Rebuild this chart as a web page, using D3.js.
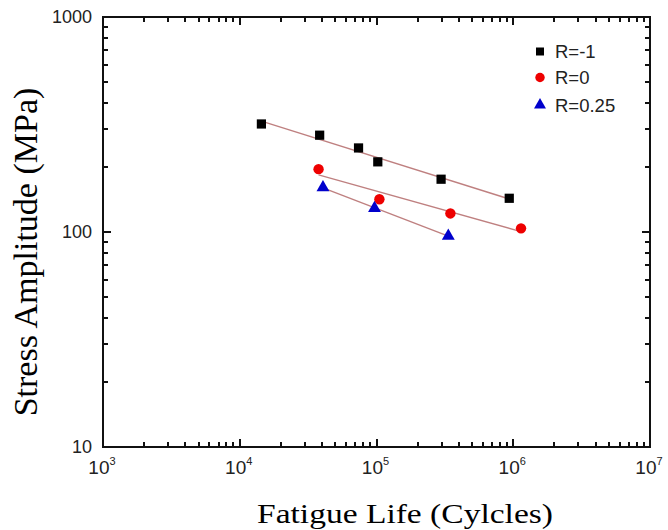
<!DOCTYPE html>
<html>
<head>
<meta charset="utf-8">
<script src="https://cdn.jsdelivr.net/npm/d3@7/dist/d3.min.js"></script>
<style>
  html, body { margin: 0; padding: 0; background: #fff; }
  svg { display: block; }
</style>
</head>
<body>
<svg id="chart" width="668" height="530"></svg>
<script>
// S-N fatigue data for three stress ratios
const seriesNames = ["R=-1", "R=0", "R=0.25"];
const lifeRm1   = [14400, 38400, 73900, 102200, 296700, 935000];
const stressRm1 = [318, 282, 246, 212, 176, 143.5];
const lifeR0    = [37700, 105000, 347000, 1140000];
const stressR0  = [196, 142, 122, 104];
const lifeR025  = [40600, 96700, 335000];
const stressR025 = [161, 129, 95.8];

const xMajorTicks = [1e3, 1e4, 1e5, 1e6, 1e7];
const xTickExponents = ["3", "4", "5", "6", "7"];
const yMajorTicks = [10, 100, 1000];
const yTickLabels = ["10", "100", "1000"];

const series = [
  { name: seriesNames[0], life: lifeRm1, stress: stressRm1, shape: "square", color: "#000000" },
  { name: seriesNames[1], life: lifeR0, stress: stressR0, shape: "circle", color: "#ee0000" },
  { name: seriesNames[2], life: lifeR025, stress: stressR025, shape: "triangle", color: "#0000cc" }
];

const svg = d3.select("#chart");
const plotLeft = 103, plotRight = 650, plotTop = 17, plotBottom = 447;

const x = d3.scaleLog().domain([1e3, 1e7]).range([plotLeft, plotRight]);
const y = d3.scaleLog().domain([10, 1000]).range([plotBottom, plotTop]);

// minor ticks at 2..9 of each decade
const minorX = [];
for (let e = 3; e < 7; e++) for (let k = 2; k <= 9; k++) minorX.push(k * Math.pow(10, e));
const minorY = [];
for (let e = 1; e < 3; e++) for (let k = 2; k <= 9; k++) minorY.push(k * Math.pow(10, e));

const frameColor = "#111";

// plot frame
svg.append("rect")
  .attr("x", plotLeft).attr("y", plotTop)
  .attr("width", plotRight - plotLeft).attr("height", plotBottom - plotTop)
  .attr("fill", "none").attr("stroke", frameColor).attr("stroke-width", 2);

// inward ticks on all four sides, built as one path
const tickPath = d3.path();
function xTicks(values, len) {
  values.forEach(v => {
    const px = Math.round(x(v));
    tickPath.moveTo(px, plotBottom); tickPath.lineTo(px, plotBottom - len);
    tickPath.moveTo(px, plotTop); tickPath.lineTo(px, plotTop + len);
  });
}
function yTicks(values, len) {
  values.forEach(v => {
    const py = Math.round(y(v));
    tickPath.moveTo(plotLeft, py); tickPath.lineTo(plotLeft + len, py);
    tickPath.moveTo(plotRight, py); tickPath.lineTo(plotRight - len, py);
  });
}
xTicks(xMajorTicks, 8);
xTicks(minorX, 5);
yTicks(yMajorTicks, 8);
yTicks(minorY, 5);
svg.append("path")
  .attr("d", tickPath.toString())
  .attr("fill", "none")
  .attr("stroke", frameColor)
  .attr("stroke-width", 2);

// x tick labels as powers of ten
const xLab = svg.append("g")
  .attr("font-family", "'Liberation Sans', Arial, sans-serif")
  .attr("fill", "#222");
xMajorTicks.forEach((v, i) => {
  const t = xLab.append("text")
    .attr("x", x(v) - 1).attr("y", 474)
    .attr("text-anchor", "middle")
    .attr("font-size", 19);
  t.append("tspan").text("10");
  t.append("tspan").attr("font-size", 11).attr("dy", -9).text(xTickExponents[i]);
});

// y tick labels
svg.append("g")
  .attr("font-family", "'Liberation Sans', Arial, sans-serif")
  .attr("fill", "#222")
  .selectAll("text").data(yMajorTicks).join("text")
  .attr("x", 92).attr("y", d => y(d))
  .attr("dy", "0.36em")
  .attr("text-anchor", "end")
  .attr("font-size", 18)
  .text((d, i) => yTickLabels[i]);

// least-squares fit in log-log space, drawn across each series' range
function fitLine(lifeArr, stressArr) {
  const lx = lifeArr.map(Math.log10), ly = stressArr.map(Math.log10);
  const mx = d3.mean(lx), my = d3.mean(ly);
  const b = d3.sum(lx, (v, i) => (v - mx) * (ly[i] - my)) / d3.sum(lx, v => (v - mx) * (v - mx));
  const a = my - b * mx;
  const ends = d3.extent(lifeArr);
  return ends.map(n => [n, Math.pow(10, a + b * Math.log10(n))]);
}

const line = d3.line().x(d => x(d[0])).y(d => y(d[1]));
svg.append("g").selectAll("path").data(series).join("path")
  .attr("d", s => line(fitLine(s.life, s.stress)))
  .attr("fill", "none")
  .attr("stroke", "#bf8080")
  .attr("stroke-width", 1.4);

const markerSymbol = {
  square: d3.symbol(d3.symbolSquare, 85),
  circle: d3.symbol(d3.symbolCircle, 85),
  triangle: d3.symbol(d3.symbolTriangle, 72)
};

// data markers
series.forEach(s => {
  svg.append("g").selectAll("path").data(s.life.map((n, i) => [n, s.stress[i]])).join("path")
    .attr("transform", d => `translate(${x(d[0])},${y(d[1])})`)
    .attr("d", markerSymbol[s.shape]())
    .attr("fill", s.color);
});

// legend
const legendSymbol = {
  square: d3.symbol(d3.symbolSquare, 64),
  circle: d3.symbol(d3.symbolCircle, 70),
  triangle: d3.symbol(d3.symbolTriangle, 62)
};
const legendY = [51.5, 77.5, 105];
const legend = svg.append("g");
series.forEach((s, i) => {
  legend.append("path")
    .attr("transform", `translate(540,${legendY[i]})`)
    .attr("d", legendSymbol[s.shape]())
    .attr("fill", s.color);
  legend.append("text")
    .attr("x", 555).attr("y", legendY[i] + 6.5)
    .attr("font-family", "'Liberation Sans', Arial, sans-serif")
    .attr("font-size", 18.5)
    .attr("fill", "#222")
    .text(s.name);
});

// axis titles
svg.append("text")
  .attr("x", 405).attr("y", 523)
  .attr("text-anchor", "middle")
  .attr("font-family", "'Liberation Serif', 'Times New Roman', serif")
  .attr("font-size", 27)
  .attr("textLength", 296)
  .attr("lengthAdjust", "spacingAndGlyphs")
  .attr("fill", "#000")
  .text("Fatigue Life (Cylcles)");

svg.append("text")
  .attr("transform", "translate(37,252) rotate(-90)")
  .attr("text-anchor", "middle")
  .attr("font-family", "'Liberation Serif', 'Times New Roman', serif")
  .attr("font-size", 34)
  .attr("fill", "#000")
  .text("Stress Amplitude (MPa)");
</script>
</body>
</html>
